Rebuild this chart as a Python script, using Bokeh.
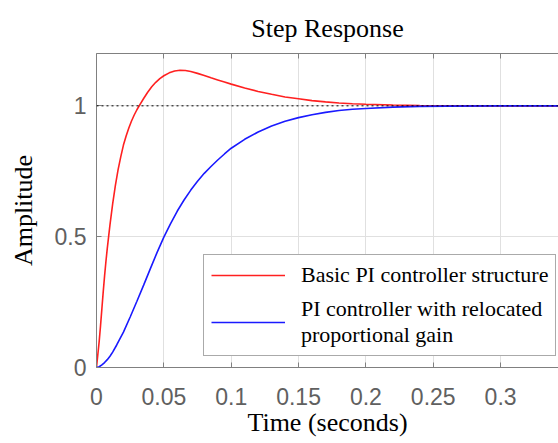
from bokeh.plotting import figure
from bokeh.models import LinearAxis, Span, Legend, LegendItem, Range1d, FixedTicker, Title
from bokeh.embed import file_html
from bokeh.resources import INLINE

# ---- data ----
t_basic = [0, 0.001, 0.002, 0.003, 0.004, 0.005, 0.006, 0.007, 0.008, 0.009, 0.010,
           0.012, 0.014, 0.016, 0.018, 0.020, 0.022, 0.024, 0.026, 0.028, 0.030,
           0.032, 0.035, 0.038, 0.041, 0.044, 0.047, 0.050, 0.054, 0.058, 0.062,
           0.066, 0.070, 0.075, 0.080, 0.085, 0.090, 0.095, 0.100, 0.110, 0.120,
           0.130, 0.140, 0.150, 0.160, 0.170, 0.180, 0.190, 0.200, 0.220, 0.240,
           0.260, 0.300, 0.343]
y_basic = [0, 0.05, 0.10, 0.16, 0.225, 0.29, 0.35, 0.405, 0.455, 0.50, 0.545,
           0.625, 0.695, 0.755, 0.805, 0.85, 0.885, 0.915, 0.942, 0.965, 0.985,
           1.003, 1.028, 1.052, 1.073, 1.09, 1.104, 1.115, 1.126, 1.133, 1.136,
           1.135, 1.131, 1.124, 1.116, 1.107, 1.099, 1.091, 1.083, 1.068, 1.055,
           1.044, 1.034, 1.027, 1.020, 1.015, 1.011, 1.008, 1.006, 1.003, 1.001,
           1.0, 1.0, 1.0]

t_reloc = [0, 0.002, 0.004, 0.006, 0.008, 0.010, 0.012, 0.015, 0.020, 0.025, 0.030,
           0.035, 0.040, 0.045, 0.050, 0.055, 0.060, 0.065, 0.070, 0.075, 0.080,
           0.085, 0.090, 0.095, 0.100, 0.110, 0.120, 0.130, 0.140, 0.150, 0.160,
           0.170, 0.180, 0.190, 0.200, 0.220, 0.240, 0.260, 0.300, 0.343]
y_reloc = [0, 0.003, 0.01, 0.019, 0.03, 0.043, 0.059, 0.086, 0.135, 0.193, 0.253,
           0.315, 0.378, 0.44, 0.498, 0.55, 0.598, 0.64, 0.678, 0.712, 0.742,
           0.768, 0.793, 0.816, 0.838, 0.872, 0.900, 0.923, 0.941, 0.955, 0.966,
           0.975, 0.982, 0.987, 0.990, 0.995, 0.998, 0.999, 1.0, 1.0]

x_ticks = [0, 0.05, 0.1, 0.15, 0.2, 0.25, 0.3]
x_tick_labels = ["0", "0.05", "0.1", "0.15", "0.2", "0.25", "0.3"]
y_ticks = [0, 0.5, 1]
y_tick_labels = ["0", "0.5", "1"]
labels = ["Basic PI controller structure", "PI controller with relocated\nproportional gain"]
colors = ["#ff2020", "#1a1aff"]

SERIF = "Liberation Serif"
SANS = "Liberation Sans"
AX = "#808080"

p = figure(width=558, height=443, output_backend="svg", toolbar_location=None,
           x_range=Range1d(0, 0.343), y_range=Range1d(0, 1.2),
           min_border_left=96, min_border_right=0, min_border_top=52, min_border_bottom=76,
           x_axis_label="Time (seconds)", y_axis_label="Amplitude")
p.outline_line_color = None
p.background_fill_color = "white"
p.border_fill_color = "white"

p.title = Title(text="Step Response", align="center",
                text_font=SERIF, text_font_size="26px", text_font_style="normal",
                text_color="black", offset=0, standoff=22)

for ax in p.xaxis + p.yaxis:
    ax.axis_line_color = AX
    ax.major_tick_line_color = AX
    ax.major_tick_in = 5
    ax.major_tick_out = 0
    ax.minor_tick_line_color = None
    ax.major_label_text_font = SANS
    ax.major_label_text_font_size = "23px"
    ax.major_label_text_color = "#606060"
    ax.axis_label_text_font = SERIF
    ax.axis_label_text_font_size = "26px"
    ax.axis_label_text_font_style = "normal"
    ax.axis_label_text_color = "black"

p.xaxis.ticker = FixedTicker(ticks=x_ticks)
p.xaxis.major_label_overrides = dict(zip(x_ticks, x_tick_labels))
p.xaxis.major_label_standoff = 20
p.xaxis.axis_label_standoff = 0
p.yaxis.ticker = FixedTicker(ticks=y_ticks)
p.yaxis.major_label_overrides = dict(zip(y_ticks, y_tick_labels))
p.yaxis.major_label_standoff = 10
p.yaxis.axis_label_standoff = 14

top = LinearAxis(ticker=FixedTicker(ticks=x_ticks),
                 major_label_overrides={t: "" for t in x_ticks},
                 major_label_text_font_size="1px",
                 axis_line_color=AX, major_tick_line_color=AX, major_tick_in=5,
                 major_tick_out=0, minor_tick_line_color=None, major_label_standoff=0)
p.add_layout(top, "above")

p.xgrid.ticker = FixedTicker(ticks=x_ticks)
p.ygrid.ticker = FixedTicker(ticks=y_ticks)
p.grid.grid_line_color = "#e0e0e0"
p.grid.grid_line_width = 1

p.add_layout(Span(location=1, dimension="width", line_color="black",
                  line_dash="2 3", line_width=1))

r1 = p.line(t_basic, y_basic, line_color=colors[0], line_width=1.6)
r2 = p.line(t_reloc, y_reloc, line_color=colors[1], line_width=1.6)

legend = Legend(items=[LegendItem(label=labels[0], renderers=[r1]),
                       LegendItem(label=labels[1], renderers=[r2])],
                location=(107, 11), orientation="vertical",
                label_text_font=SERIF, label_text_font_size="22px",
                label_text_color="black", label_text_line_height=1.2,
                glyph_width=74, glyph_height=20, label_standoff=16,
                padding=7, spacing=8, margin=0,
                border_line_color="#555555", border_line_width=1,
                background_fill_color="white", background_fill_alpha=1)
p.add_layout(legend, "center")

open("out.html", "w").write(file_html(p, INLINE))
